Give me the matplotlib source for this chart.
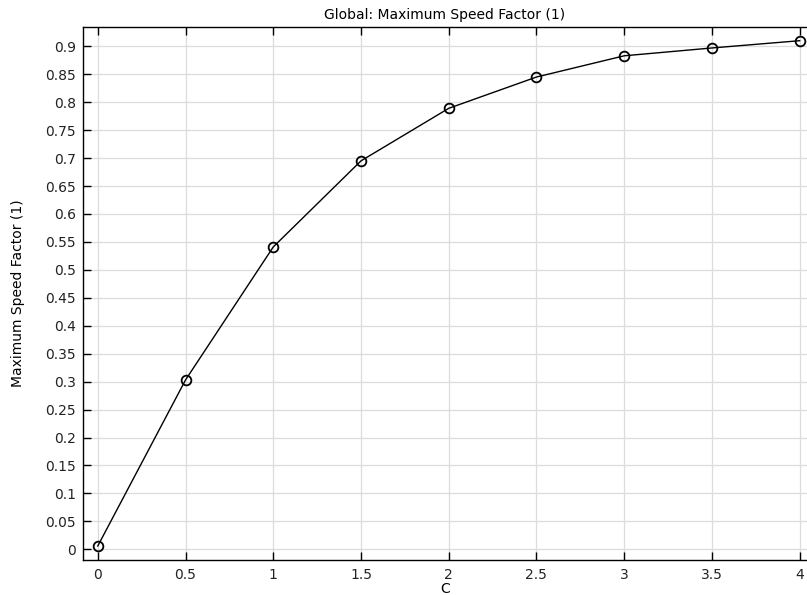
import matplotlib
matplotlib.use("Agg")
import matplotlib.pyplot as plt

C = [0, 0.5, 1, 1.5, 2, 2.5, 3, 3.5, 4]
speed_factor = [0.006, 0.303, 0.541, 0.695, 0.789, 0.845, 0.883, 0.897, 0.910]

xticks = [0, 0.5, 1, 1.5, 2, 2.5, 3, 3.5, 4]
xticklabels = ["0", "0.5", "1", "1.5", "2", "2.5", "3", "3.5", "4"]
yticks = [i * 0.05 for i in range(19)]
yticklabels = ["0", "0.05", "0.1", "0.15", "0.2", "0.25", "0.3", "0.35", "0.4",
               "0.45", "0.5", "0.55", "0.6", "0.65", "0.7", "0.75", "0.8", "0.85", "0.9"]

fig = plt.figure(figsize=(8.07, 5.95), dpi=100)
ax = fig.add_axes([0.1029, 0.0588, 0.8971, 0.8958])

ax.plot(C, speed_factor, color="black", lw=1.0, marker="o", markersize=7,
        markerfacecolor="none", markeredgecolor="black", markeredgewidth=1.3)

ax.set_xlim(-0.084, 4.042)
ax.set_ylim(-0.0191, 0.9345)
ax.set_xticks(xticks)
ax.set_xticklabels(xticklabels)
ax.set_yticks(yticks)
ax.set_yticklabels(yticklabels)
ax.grid(True, color="#dcdcdc", lw=0.9)
ax.set_axisbelow(True)
ax.tick_params(direction="in", top=True, right=False, length=6, width=1.0,
               labelsize=10, colors="black", labelcolor="#222222", pad=5)
ax.tick_params(axis="x", pad=6)
for s in ax.spines.values():
    s.set_linewidth(1.0)
ax.spines["right"].set_visible(False)

ax.set_title("Global: Maximum Speed Factor (1)", fontsize=10, pad=6)
ax.set_xlabel("C", fontsize=10, labelpad=-0.5)
ax.set_ylabel("Maximum Speed Factor (1)", fontsize=10, labelpad=15)

fig.savefig("out.png", dpi=100)
